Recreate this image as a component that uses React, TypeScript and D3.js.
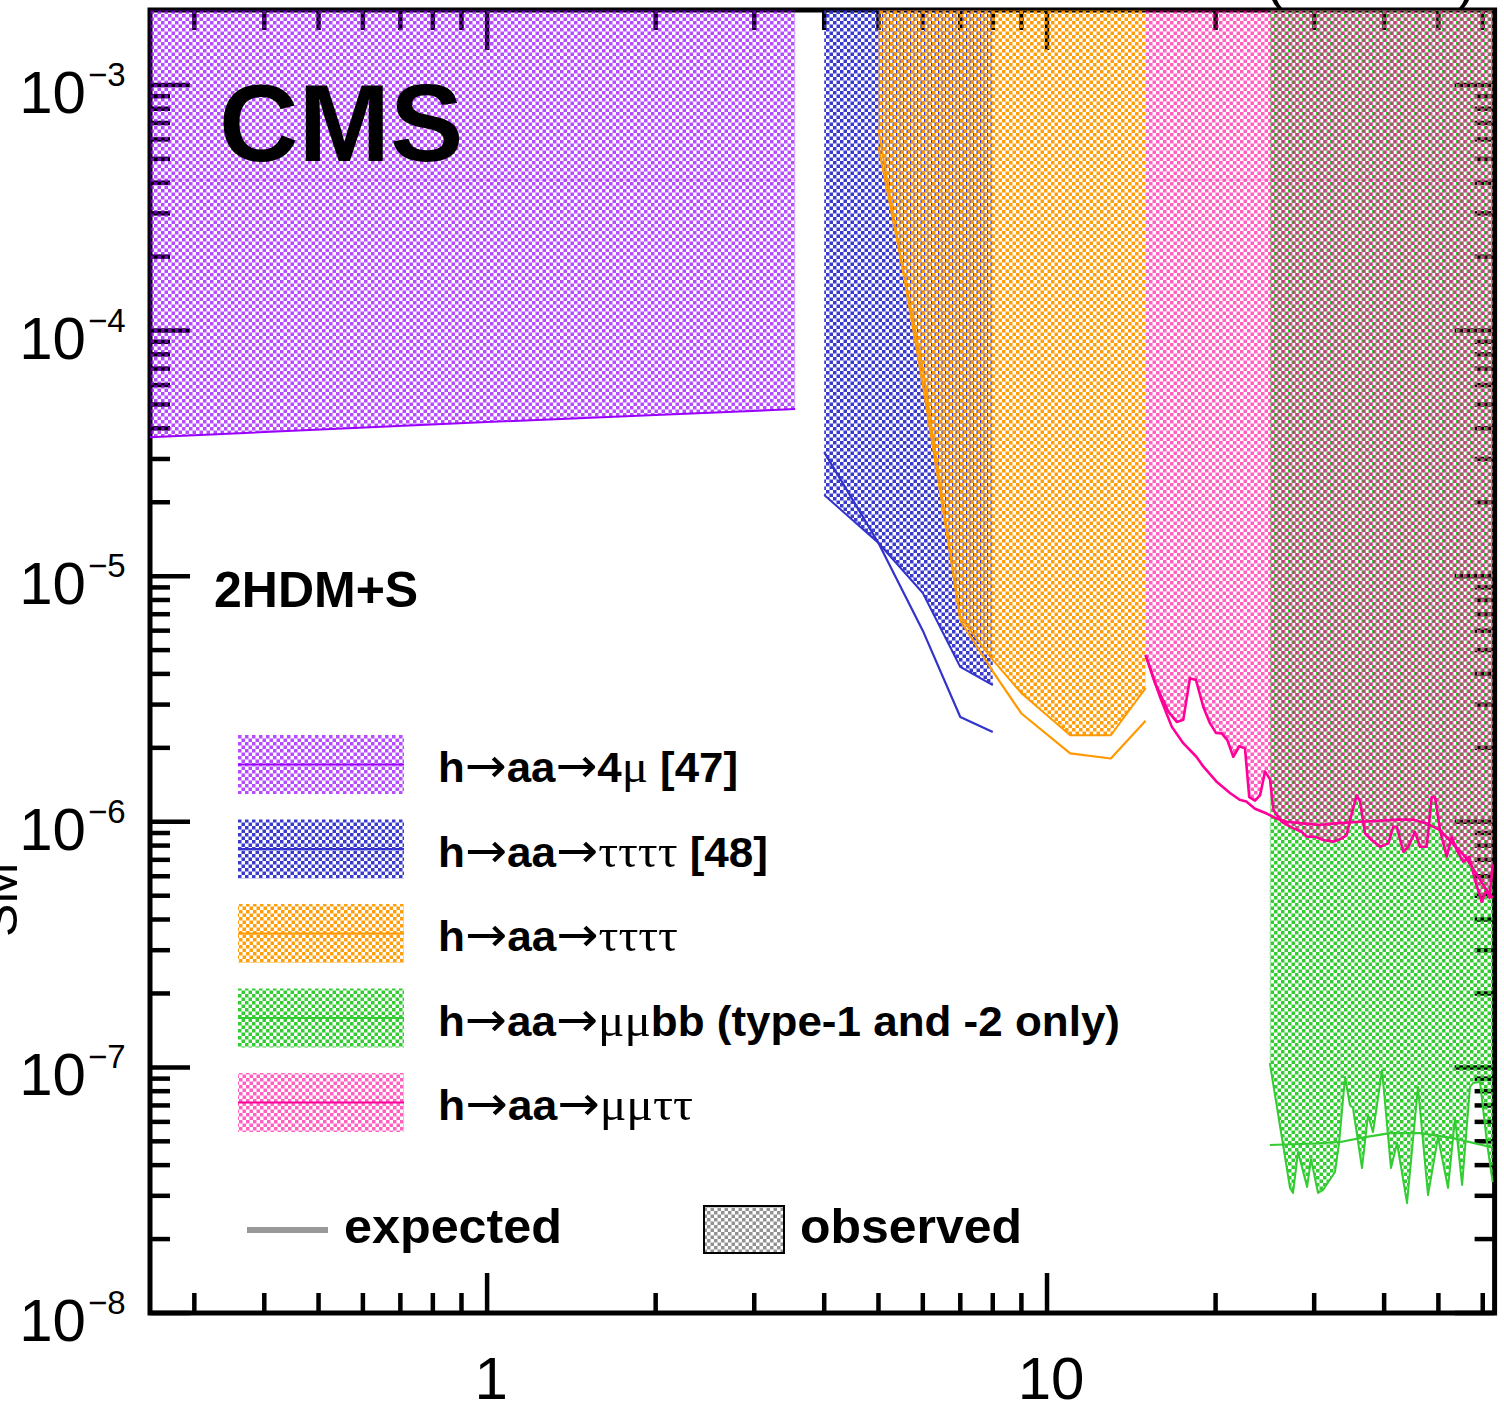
import React from 'react';
import * as d3 from 'd3';

// ---------- axes ----------
const xDomain: [number, number] = [0.25, 63];
const yDomain: [number, number] = [1e-8, 2e-3];
const yLabelExponents = [-3, -4, -5, -6, -7, -8];
const xLabelValues = [1, 10];

// ---------- h→aa→4μ [47] ----------
const mass4mu = [0.25, 1.0, 2.0, 3.55];
const obs4mu = [3.68e-5, 4.24e-5, 4.53e-5, 4.79e-5];

// ---------- h→aa→ττττ [48] ----------
const mass4tauPrev = [4, 5, 6, 7, 8];
const obs4tauPrev = [2.14e-5, 1.365e-5, 8.54e-6, 4.27e-6, 3.6e-6];
const exp4tauPrev = [3.2e-5, 1.365e-5, 6.0e-6, 2.67e-6, 2.32e-6];

// ---------- h→aa→ττττ ----------
const mass4tau = [5, 6, 7, 8, 9, 11, 13, 15];
const obs4tau = [6.56e-4, 6.0e-5, 6.82e-6, 4.56e-6, 3.34e-6, 2.25e-6, 2.25e-6, 3.5e-6];
const exp4tau = [5.6e-4, 7.0e-5, 6.6e-6, 4.1e-6, 2.76e-6, 1.9e-6, 1.81e-6, 2.58e-6];

// ---------- h→aa→μμbb ----------
const massMuMuBBObs = [
  25.0, 27.16, 27.5, 28.07, 29.14, 29.61, 30.48, 31.11, 32.68, 33.23, 34.06, 34.75, 35.19, 36.52,
  37.44, 38.21, 39.66, 41.14, 42.18, 43.95, 45.97, 47.91, 49.92, 52.02, 53.54, 55.12, 56.93, 57.64,
  59.33, 61.06, 62.5,
];
const obsMuMuBB = [
  1.04e-7, 3.23e-8, 3.08e-8, 4.52e-8, 3.26e-8, 4.23e-8, 3.08e-8, 3.17e-8, 3.75e-8, 4.92e-8, 9.13e-8,
  7.03e-8, 6.83e-8, 3.89e-8, 6.4e-8, 5.45e-8, 9.75e-8, 3.89e-8, 4.92e-8, 2.8e-8, 8.32e-8, 3.02e-8,
  5.2e-8, 3.23e-8, 6.22e-8, 3.32e-8, 8.32e-8, 8.63e-8, 8.72e-8, 4.92e-8, 3.41e-8,
];
const massMuMuBBExp = [25.0, 30.0, 33.4, 37.0, 41.0, 46.4, 53.1, 62.5];
const expMuMuBB = [4.83e-8, 4.9e-8, 4.97e-8, 5.2e-8, 5.4e-8, 5.4e-8, 5.15e-8, 4.72e-8];

// ---------- h→aa→μμττ ----------
const massMuMuTauTauObs = [
  15.0, 15.59, 16.47, 17.05, 17.51, 18.0, 18.45, 19.01, 19.54, 20.03, 20.51, 20.99, 21.51, 22.05,
  22.57, 22.97, 23.52, 24.01, 24.51, 25.02, 25.36, 26.25, 27.54, 28.5, 29.09, 30.11, 31.15, 32.46,
  33.6, 34.29, 35.01, 35.74, 36.23, 36.98, 38.0, 39.33, 40.7, 41.55, 42.14, 43.28, 44.18, 45.41,
  46.36, 47.65, 48.64, 49.31, 50.33, 51.74, 52.81, 53.91, 55.39, 56.77, 58.12, 59.74, 60.98, 61.7,
  62.5,
];
const obsMuMuTauTau = [
  4.77e-6, 3.67e-6, 2.81e-6, 2.55e-6, 2.6e-6, 3.84e-6, 3.78e-6, 2.94e-6, 2.52e-6, 2.3e-6, 2.29e-6,
  2.15e-6, 1.84e-6, 2.03e-6, 1.99e-6, 1.26e-6, 1.22e-6, 1.28e-6, 1.6e-6, 1.49e-6, 1.12e-6, 1.0e-6,
  9.4e-7, 9.1e-7, 8.69e-7, 8.69e-7, 8.43e-7, 8.29e-7, 8.56e-7, 8.83e-7, 1.08e-6, 1.28e-6, 1.21e-6,
  8.97e-7, 8.43e-7, 7.91e-7, 8.17e-7, 9.55e-7, 9.55e-7, 7.55e-7, 7.91e-7, 9.1e-7, 7.91e-7, 7.91e-7,
  1.26e-6, 1.26e-6, 9.25e-7, 7.21e-7, 8.69e-7, 7.67e-7, 6.87e-7, 7.21e-7, 5.79e-7, 4.72e-7, 5.3e-7,
  4.9e-7, 6.7e-7,
];
const massMuMuTauTauExp = [
  15.0, 15.91, 16.7, 17.51, 18.48, 19.01, 20.06, 21.22, 22.08, 22.69, 23.52, 24.68, 25.71, 26.8,
  28.61, 30.73, 32.71, 36.23, 39.33, 42.14, 45.1, 47.65, 50.33, 53.0, 55.82, 58.35, 60.98, 62.5,
];
const expMuMuTauTau = [
  4.77e-6, 3.23e-6, 2.44e-6, 2.09e-6, 1.84e-6, 1.68e-6, 1.46e-6, 1.31e-6, 1.23e-6, 1.21e-6, 1.13e-6,
  1.08e-6, 1.03e-6, 1.0e-6, 9.85e-7, 9.7e-7, 9.85e-7, 1.0e-6, 1.01e-6, 1.02e-6, 1.02e-6, 9.85e-7,
  9.25e-7, 8.17e-7, 7.21e-7, 6.17e-7, 5.27e-7, 4.9e-7,
];

// thin level line running across the 4μ and μμττ bands
const seamLevel = 4.1e-4;

// ---------- legend ----------
const legendLabels = [
  'h→aa→4μ [47]',
  'h→aa→ττττ [48]',
  'h→aa→ττττ',
  'h→aa→μμbb (type-1 and -2 only)',
  'h→aa→μμττ',
];
const lineColors = ['#9900ff', '#3333cc', '#ff9900', '#33cc33', '#ff0099'];
const cellColors = ['#9900ff', '#3030c8', '#ff9900', '#33cc33', '#ff0099'];
const cellOpacity = [0.7, 0.95, 0.95, 1, 0.62];
const patternShift = [0, 0, 1, 0, 1];

const SANS = "'Liberation Sans', Arial, Helvetica, sans-serif";
const SERIF = "'Liberation Serif', 'DejaVu Serif', 'Times New Roman', serif";
const ARROW = "'DejaVu Sans', 'Noto Sans', sans-serif";

type Pt = [number, number];
const zip = (ms: number[], vs: number[]): Pt[] => ms.map((m, i) => [m, vs[i]]);

type Run = { text: string; kind: 'text' | 'arrow' | 'greek' };
function labelRuns(label: string): Run[] {
  const runs: Run[] = [];
  for (const ch of label) {
    const kind: Run['kind'] = ch === '→' ? 'arrow' : /[μτ]/.test(ch) ? 'greek' : 'text';
    const last = runs[runs.length - 1];
    if (last && last.kind === kind) last.text += ch;
    else runs.push({ text: ch, kind });
  }
  return runs;
}

function Checker({ id, color, opacity, dx = 0, cell = 3.5 }: any) {
  const t = cell * 2;
  return (
    <pattern id={id} patternUnits="userSpaceOnUse" width={t} height={t} x={dx} y={0}>
      <rect x={0} y={0} width={cell} height={cell} fill={color} fillOpacity={opacity} />
      <rect x={cell} y={cell} width={cell} height={cell} fill={color} fillOpacity={opacity} />
    </pattern>
  );
}

export default function App() {
  const W = 1504;
  const H = 1404;
  const left = 150;
  const right = 1494.6;
  const top = 10;
  const bottom = 1313;

  const x = d3.scaleLog().domain(xDomain).range([left, right]);
  const y = d3.scaleLog().domain(yDomain).range([bottom, 11]);

  const band = d3
    .area<Pt>()
    .x((d) => x(d[0]))
    .y0(-40)
    .y1((d) => y(d[1]));
  const line = d3
    .line<Pt>()
    .x((d) => x(d[0]))
    .y((d) => y(d[1]));

  const isDecade = (v: number) => Math.abs(Math.log10(v) - Math.round(Math.log10(v))) < 1e-9;
  const xTicks = x.ticks();
  const yTicks = y.ticks().filter((v) => v < 1.9e-3);

  const bands = [
    { obs: zip(mass4mu, obs4mu), exp: null as Pt[] | null },
    { obs: zip(mass4tauPrev, obs4tauPrev), exp: zip(mass4tauPrev, exp4tauPrev) },
    { obs: zip(mass4tau, obs4tau), exp: zip(mass4tau, exp4tau) },
    { obs: zip(massMuMuBBObs, obsMuMuBB), exp: zip(massMuMuBBExp, expMuMuBB) },
    { obs: zip(massMuMuTauTauObs, obsMuMuTauTau), exp: zip(massMuMuTauTauExp, expMuMuTauTau) },
  ];

  // rendered widths of the legend entries
  const legendTextWidth = [300, 330, 240, 682, 255];
  const tickW = 4.5;

  return (
    <svg
      width={W}
      height={H}
      viewBox={`0 0 ${W} ${H}`}
      style={{ position: 'absolute', left: 0, top: 0, background: '#fff' }}
    >
      <defs>
        {cellColors.map((c, i) => (
          <Checker key={i} id={`chk${i}`} color={c} opacity={cellOpacity[i]} dx={patternShift[i]} />
        ))}
        <Checker id="chkGrey" color="#777" opacity={0.8} />
        <clipPath id="plotClip">
          <rect x={left} y={top} width={right - left} height={bottom - top} />
        </clipPath>
      </defs>
      <rect x={0} y={0} width={W} height={H} fill="#fff" />

      {/* frame and ticks */}
      <g stroke="#000" strokeWidth={tickW} fill="none">
        {xTicks.map((v, i) => {
          const len = isDecade(v) ? 40 : 20;
          const px = x(v);
          return (
            <g key={`xt${i}`}>
              <line x1={px} x2={px} y1={bottom} y2={bottom - len} />
              <line x1={px} x2={px} y1={top} y2={top + len} />
            </g>
          );
        })}
        {yTicks.map((v, i) => {
          const len = isDecade(v) ? 40 : 20;
          const py = y(v);
          return (
            <g key={`yt${i}`}>
              <line x1={left} x2={left + len} y1={py} y2={py} />
              <line x1={right} x2={right - len} y1={py} y2={py} />
            </g>
          );
        })}
        <rect x={left} y={top} width={right - left} height={bottom - top} strokeWidth={5} />
      </g>

      {/* exclusion bands */}
      <g clipPath="url(#plotClip)">
        {bands.map((b, i) => (
          <path key={`f${i}`} d={band(b.obs) || ''} fill={`url(#chk${i})`} />
        ))}
        <line
          x1={x(mass4mu[0])}
          x2={x(mass4mu[mass4mu.length - 1])}
          y1={y(seamLevel)}
          y2={y(seamLevel)}
          stroke={lineColors[0]}
          strokeOpacity={0.35}
          strokeWidth={1}
        />
        <line
          x1={x(massMuMuTauTauObs[0])}
          x2={x(massMuMuTauTauObs[massMuMuTauTauObs.length - 1])}
          y1={y(seamLevel)}
          y2={y(seamLevel)}
          stroke={lineColors[4]}
          strokeOpacity={0.35}
          strokeWidth={1}
        />
        {bands.map((b, i) => (
          <path
            key={`o${i}`}
            d={line(b.obs) || ''}
            fill="none"
            stroke={lineColors[i]}
            strokeWidth={i === 4 ? 2.6 : 2}
            strokeLinejoin="round"
          />
        ))}
        {bands.map((b, i) =>
          b.exp ? (
            <path
              key={`e${i}`}
              d={line(b.exp) || ''}
              fill="none"
              stroke={lineColors[i]}
              strokeWidth={i === 4 ? 2.6 : 2.2}
              strokeLinejoin="round"
            />
          ) : null
        )}
      </g>

      {/* axis labels */}
      <g fontFamily={SANS} fill="#000">
        {yLabelExponents.map((e) => {
          const py = y(Math.pow(10, e));
          return (
            <g key={`yl${e}`}>
              <text x={86} y={py + 28} fontSize={60} textAnchor="end">
                10
              </text>
              <text x={88} y={py + 1} fontSize={33} textAnchor="start">
                {`\u2212${-e}`}
              </text>
            </g>
          );
        })}
        {xLabelValues.map((v) => (
          <text key={`xl${v}`} x={x(v) + 4} y={1399} fontSize={60} textAnchor="middle">
            {v}
          </text>
        ))}
        <text transform="translate(17,937) rotate(-90)" fontSize={50}>
          SM
        </text>
        <text x={1476} y={-2} fontSize={56} textAnchor="end">
          35.9 fb⁻¹ (13 TeV)
        </text>
      </g>

      {/* headers */}
      <text x={219} y={161} fontFamily={SANS} fontWeight="bold" fontSize={110}>
        CMS
      </text>
      <text x={214} y={607} fontFamily={SANS} fontWeight="bold" fontSize={50}>
        2HDM+S
      </text>

      {/* legend */}
      <g>
        {legendLabels.map((lab, i) => {
          const boxTop = 735 + i * 84.5;
          return (
            <g key={`lg${i}`}>
              <rect x={238} y={boxTop} width={166} height={59} fill={`url(#chk${i})`} />
              <line
                x1={238}
                x2={404}
                y1={boxTop + 29.5}
                y2={boxTop + 29.5}
                stroke={lineColors[i]}
                strokeWidth={2}
              />
              <text
                x={438}
                y={boxTop + 47}
                fontFamily={SANS}
                fontWeight="bold"
                fontSize={42}
                textLength={legendTextWidth[i]}
                lengthAdjust="spacingAndGlyphs"
                style={{ whiteSpace: 'pre' }}
              >
                {labelRuns(lab).map((r, k) => (
                  <tspan
                    key={k}
                    fontFamily={r.kind === 'arrow' ? ARROW : r.kind === 'greek' ? SERIF : SANS}
                    fontWeight={r.kind === 'text' ? 'bold' : 'normal'}
                    fontSize={r.kind === 'arrow' ? 48 : r.kind === 'greek' ? 47 : 42}
                  >
                    {r.text}
                  </tspan>
                ))}
              </text>
            </g>
          );
        })}
        <line x1={247} x2={328} y1={1230} y2={1230} stroke="#999" strokeWidth={6} />
        <text
          x={344}
          y={1243}
          fontFamily={SANS}
          fontWeight="bold"
          fontSize={48}
          textLength={218}
          lengthAdjust="spacingAndGlyphs"
        >
          expected
        </text>
        <rect x={704} y={1206} width={80} height={47} fill="url(#chkGrey)" stroke="#000" strokeWidth={2} />
        <text
          x={800}
          y={1243}
          fontFamily={SANS}
          fontWeight="bold"
          fontSize={48}
          textLength={222}
          lengthAdjust="spacingAndGlyphs"
        >
          observed
        </text>
      </g>
    </svg>
  );
}
